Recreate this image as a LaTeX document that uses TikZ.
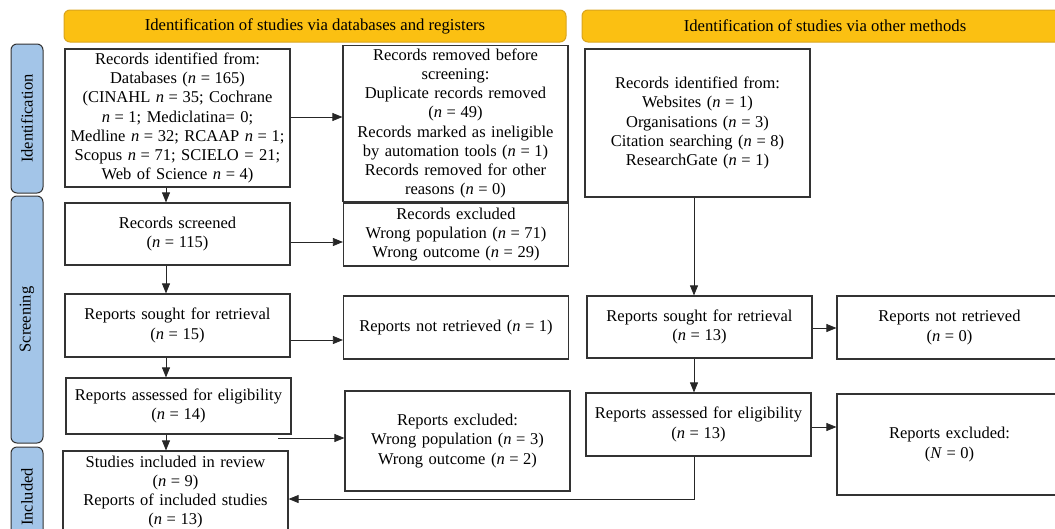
\documentclass[tikz,border=0pt]{standalone}
\usepackage{fontspec}
\setmainfont{Liberation Serif}
\usetikzlibrary{arrows.meta,positioning,shapes}
\usepackage{xcolor}
\definecolor{bannerfill}{HTML}{FBC012}
\definecolor{bannerline}{HTML}{D9A41E}
\definecolor{phasefill}{HTML}{A3C5E8}
\newcommand{\nv}[1]{\textit{n}\;=\;#1}

\begin{document}
\begin{tikzpicture}[x=1pt,y=-1pt,->,>={Triangle[length=10pt,width=8pt]},thick,
      box/.style={rectangle,draw=black!80,line width=1.2pt,align=center,
          font=\fontsize{16.5}{19.2}\selectfont,minimum width=225pt,text width=217pt},
      banner/.style={rectangle,rounded corners=6pt,draw=bannerline,fill=bannerfill,
          line width=1pt,minimum height=32pt,font=\fontsize{16.7}{19}\selectfont},
      phase/.style={rectangle,rounded corners=6pt,draw=black!80,fill=phasefill,
          line width=1pt,minimum height=32pt,rotate=90,font=\fontsize{16.5}{19}\selectfont},
      link/.style={draw=black!85,line width=0.8pt}]

    \useasboundingbox (0,0) rectangle (1055,528);
    \begin{scope}
    \clip (0,0) rectangle (1055,528);

    % banners and phase bars
    \node[banner,minimum width=502pt] (dbbanner) at (315,26) {Identification of studies via databases and registers};
    \node[banner,minimum width=486pt] (otherbanner) at (825,26) {Identification of studies via other methods};
    \node[phase,minimum width=149pt] (ident) at (27,118.5) {Identification};
    \node[phase,minimum width=247pt] (screen) at (27,319.5) {Screening};
    \node[phase,minimum width=100pt] (incl) at (27,497) {Included};

    % databases and registers
    \node[box,minimum height=138pt] (recid) at (177.5,118) {Records identified from:\\
        Databases (\nv{165})\\ (CINAHL \nv{35}; Cochrane\\ \nv{1}; Mediclatina= 0;\\
        Medline \nv{32}; RCAAP \nv{1};\\ Scopus \nv{71}; SCIELO = 21;\\ Web of Science \nv{4})};
    \node[box,minimum height=149pt] (recrem) at (455.5,123.5) {Records removed before\\ screening:\\
        Duplicate records removed\\ (\nv{49})\\ Records marked as ineligible\\
        by automation tools (\nv{1})\\ Records removed for other\\ reasons (\nv{0})};
    \node[box,minimum height=62pt] (recscr) at (177.5,234) {Records screened\\ (\nv{115})};
    \node[box,minimum height=63pt] (recexc) at (456,234.5) {Records excluded\\
        Wrong population (\nv{71})\\ Wrong outcome (\nv{29})};
    \node[box,minimum height=63pt] (repsou) at (177.5,325.5) {Reports sought for retrieval\\ (\nv{15})};
    \node[box,minimum height=63pt] (repnot) at (456,327.5) {Reports not retrieved (\nv{1})};
    \node[box,minimum height=56pt] (repass) at (178.5,406) {Reports assessed for eligibility\\ (\nv{14})};
    \node[box,minimum height=100pt] (repexc) at (457.5,441) {Reports excluded:\\
        Wrong population (\nv{3})\\ Wrong outcome (\nv{2})};
    \node[box,minimum height=82pt] (incstud) at (175.5,492) {Studies included in review\\ (\nv{9})\\
        Reports of included studies\\ (\nv{13})};

    % other methods
    \node[box,minimum height=148pt] (othid) at (697.5,123) {Records identified from:\\
        Websites (\nv{1})\\ Organisations (\nv{3})\\ Citation searching (\nv{8})\\ ResearchGate (\nv{1})};
    \node[box,minimum height=62pt] (othsou) at (699.5,327) {Reports sought for retrieval\\ (\nv{13})};
    \node[box,minimum height=63pt] (othnot) at (949.5,327.5) {Reports not retrieved\\ (\nv{0})};
    \node[box,minimum height=63pt] (othass) at (698.5,424.5) {Reports assessed for eligibility\\ (\nv{13})};
    \node[box,minimum height=101pt] (othexc) at (949.5,444.5) {Reports excluded:\\ (\textit{N}\;=\;0)};

    % connector levels
    \coordinate (idrow) at (0,117);
    \coordinate (scrrow) at (0,242);
    \coordinate (sourow) at (0,340);
    \coordinate (othsourow) at (0,328);
    \coordinate (othassrow) at (0,427);
    \coordinate (leftcol) at (166,0);
    \coordinate (rightcol) at (694,0);
    \coordinate (exstart) at (278,438);
    \coordinate (backturn) at (694,499);

    \draw[link] (recid.east |- idrow) -- (recrem.west |- idrow);
    \draw[link] (recid.south -| leftcol) -- (recscr.north -| leftcol);
    \draw[link] (recscr.east |- scrrow) -- (recexc.west |- scrrow);
    \draw[link] (recscr.south -| leftcol) -- (repsou.north -| leftcol);
    \draw[link] (repsou.east |- sourow) -- (repnot.west |- sourow);
    \draw[link] (repsou.south -| leftcol) -- (repass.north -| leftcol);
    \draw[link] (repass.south -| leftcol) -- (incstud.north -| leftcol);
    \draw[link] (exstart) -- (repexc.west |- exstart);
    \draw[link] (othid.south -| rightcol) -- (othsou.north -| rightcol);
    \draw[link] (othsou.east |- othsourow) -- (othnot.west |- othsourow);
    \draw[link] (othsou.south -| rightcol) -- (othass.north -| rightcol);
    \draw[link] (othass.east |- othassrow) -- (othexc.west |- othassrow);
    \draw[link] (othass.south -| backturn) -- (backturn) -- (incstud.east |- backturn);
    \end{scope}

  \end{tikzpicture}
\end{document}
